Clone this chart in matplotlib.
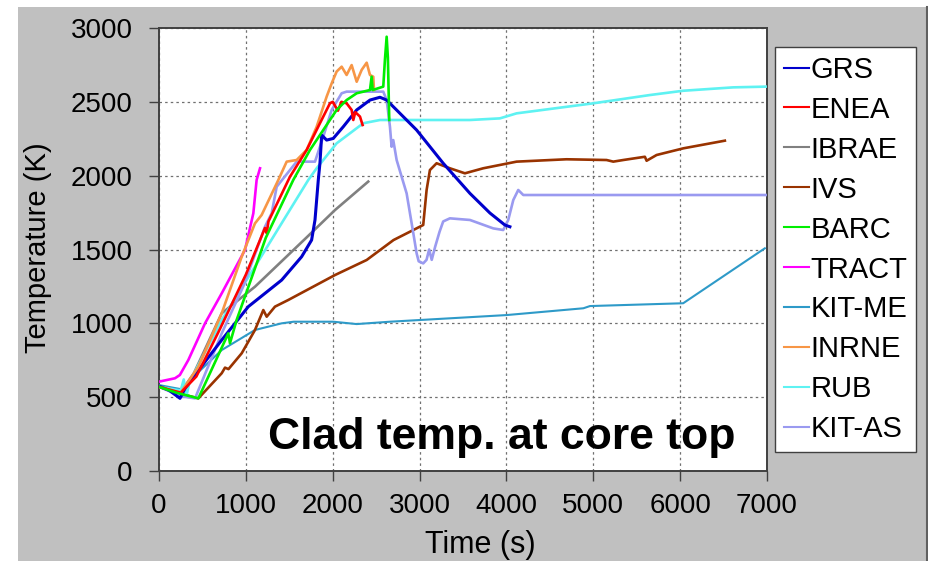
import matplotlib
matplotlib.use("Agg")
import matplotlib.pyplot as plt
from matplotlib.patches import Rectangle
from matplotlib.lines import Line2D

plt.rcParams['font.family'] = ['Liberation Sans', 'DejaVu Sans']

# ---------------- data (time s, temperature K) ----------------
series_names = ["GRS", "ENEA", "IBRAE", "IVS", "BARC", "TRACT", "KIT-ME", "INRNE", "RUB", "KIT-AS"]
series_colors = ["#0000cc", "#ff0000", "#808080", "#993300", "#00ee00", "#ff00ff",
                 "#2e9ac8", "#f79646", "#5ef2f2", "#9a9af0"]

grs_t = [0, 120, 242, 300, 530, 722, 1028, 1412, 1642, 1757, 1796, 1834, 1853, 1873, 1930, 2006,
         2121, 2276, 2429, 2544, 2621, 2966, 3272, 3580, 3810, 3982, 4040]
grs_T = [575, 545, 492, 560, 740, 887, 1113, 1293, 1451, 1564, 1700, 1971, 2085, 2275, 2241, 2252,
         2331, 2445, 2512, 2531, 2512, 2309, 2084, 1880, 1747, 1666, 1654]

enea_t = [0, 250, 430, 700, 1000, 1220, 1240, 1260, 1508, 1700, 1853, 1968, 2000, 2060, 2100, 2160,
          2218, 2237, 2260, 2314, 2344]
enea_T = [570, 530, 640, 960, 1330, 1646, 1610, 1690, 1993, 2174, 2355, 2490, 2500, 2440, 2500, 2490,
          2445, 2377, 2430, 2400, 2343]

ibrae_t = [0, 250, 400, 722, 1105, 1431, 1700, 2026, 2409]
ibrae_T = [570, 535, 660, 1068, 1248, 1431, 1582, 1767, 1960]

ivs_t = [0, 200, 453, 722, 760, 800, 952, 1105, 1201, 1240, 1335, 1488, 2026, 2391, 2700, 3042,
         3081, 3119, 3196, 3349, 3522, 3733, 4117, 4692, 5153, 5230, 5345, 5594, 5614, 5729, 6036, 6515]
ivs_T = [570, 530, 492, 662, 700, 690, 797, 955, 1090, 1045, 1113, 1158, 1327, 1429, 1564, 1666,
         1903, 2038, 2084, 2050, 2016, 2050, 2095, 2111, 2106, 2095, 2106, 2128, 2101, 2140, 2185, 2237]

barc_t = [0, 200, 453, 798, 817, 894, 1230, 1546, 1738, 1891, 2045, 2160,
          2276, 2429, 2448, 2460, 2582, 2601, 2621, 2635, 2651]
barc_T = [570, 530, 492, 932, 865, 1023, 1580, 1971, 2174, 2309, 2445, 2512,
          2558, 2580, 2670, 2580, 2603, 2783, 2941, 2800, 2377]

tract_t = [0, 184, 240, 338, 530, 722, 990, 1086, 1124, 1163]
tract_T = [605, 628, 650, 752, 1000, 1203, 1497, 1745, 1971, 2050]

kitme_t = [0, 299, 400, 722, 1105, 1412, 1550, 2006, 2276, 2659, 3349, 4002, 4886, 4962, 6035, 6975]
kitme_T = [582, 549, 640, 819, 955, 1000, 1011, 1011, 995, 1011, 1034, 1056, 1102, 1117, 1136, 1508]

inrne_t = [0, 250, 453, 722, 952, 1105, 1182, 1374, 1470, 1585, 1700, 1815, 1930, 1988, 2045, 2103,
           2160, 2218, 2276, 2333, 2391, 2429, 2467, 2475]
inrne_T = [570, 530, 706, 1068, 1451, 1677, 1734, 1971, 2095, 2106, 2174, 2331, 2535, 2625, 2705, 2738,
           2682, 2749, 2636, 2716, 2765, 2682, 2670, 2580]

rub_t = [0, 250, 285, 300, 320, 350, 722, 1105, 1431, 1719, 1815, 2045, 2352, 2544, 3580,
         3925, 4117, 5000, 5651, 6035, 6611, 6995]
rub_T = [570, 545, 620, 560, 520, 600, 1023, 1384, 1696, 1971, 2050, 2219, 2355, 2377, 2377,
         2388, 2422, 2490, 2546, 2575, 2598, 2603]

kitas_t = [0, 261, 415, 722, 970, 1220, 1297, 1355, 1585, 1796, 1891, 1988, 2103, 2160, 2582, 2621,
           2659, 2678, 2697, 2736, 2851, 2928, 2966, 2990, 3042, 3080, 3110, 3140, 3180, 3230, 3272,
           3349, 3580, 3848, 3963, 4021, 4079, 4136, 4194, 6995]
kitas_T = [570, 505, 492, 932, 1250, 1654, 1745, 1925, 2095, 2095, 2264, 2445, 2558, 2569, 2569, 2512,
           2331, 2196, 2241, 2106, 1880, 1610, 1474, 1420, 1406, 1430, 1500, 1430, 1520, 1620, 1690,
           1711, 1700, 1643, 1632, 1700, 1835, 1903, 1869, 1869]

series_t = [grs_t, enea_t, ibrae_t, ivs_t, barc_t, tract_t, kitme_t, inrne_t, rub_t, kitas_t]
series_T = [grs_T, enea_T, ibrae_T, ivs_T, barc_T, tract_T, kitme_T, inrne_T, rub_T, kitas_T]

x_ticks = [0, 1000, 2000, 3000, 4000, 5000, 6000, 7000]
y_ticks = [0, 500, 1000, 1500, 2000, 2500, 3000]

# ---------------- figure ----------------
W, H = 929, 561
fig = plt.figure(figsize=(W / 100, H / 100), dpi=100, facecolor="white")
fig.patches.append(Rectangle((18 / W, 0), 1 - 18 / W, 1 - 7 / H, transform=fig.transFigure,
                             facecolor="#c0c0c0", edgecolor="none", zorder=-10))
fig.lines.append(Line2D([927 / W, 927 / W], [0, 1 - 7 / H], transform=fig.transFigure,
                        color="#606060", lw=1.5))

ax = fig.add_axes([159 / W, (H - 471) / H, (767 - 159) / W, (471 - 28) / H])
ax.set_facecolor("white")

order = [6, 2, 3, 8, 9, 0, 5, 7, 1, 4]
for k, i in enumerate(order):
    name = series_names[i]
    lw = 1.5 if name == "KIT-ME" else (2.2 if name == "GRS" else 1.9)
    ax.plot(series_t[i], series_T[i], color=series_colors[i], lw=lw, zorder=3 + k * 0.01)

ax.set_xlim(0, 7000)
ax.set_ylim(0, 3000)
ax.set_xticks(x_ticks)
ax.set_yticks(y_ticks)
ax.grid(True, color="#707070", lw=0.9, linestyle=(0, (2, 2.5)))
ax.set_axisbelow(True)
for s in ax.spines.values():
    s.set_color("#404040")
    s.set_linewidth(1.4)
ax.tick_params(axis="both", direction="out", length=7, width=1.0, color="#404040")
ax.tick_params(axis="y", labelsize=20, pad=12)
ax.tick_params(axis="x", labelsize=20, pad=9)

fig.text(38 / W, 1 - 248 / H, "Temperature (K)", rotation=90, ha="center", va="center", fontsize=21)
fig.text(480 / W, 1 - 545 / H, "Time (s)", ha="center", va="center", fontsize=22)
fig.text(268 / W, 1 - 449 / H, "Clad temp. at core top", ha="left", va="baseline",
         fontsize=32, fontweight="bold")

handles = [Line2D([], [], color=c, lw=1.5) for c in series_colors]
leg = fig.legend(handles, series_names, loc="upper left", bbox_to_anchor=(775 / W, 1 - 47 / H),
                 bbox_transform=fig.transFigure, borderaxespad=0, fontsize=21, frameon=True,
                 fancybox=False, edgecolor="#404040", framealpha=1, handlelength=0.85,
                 handletextpad=0.08, labelspacing=0.41, borderpad=0.3)
leg.get_frame().set_linewidth(1.0)

fig.savefig("out.png", dpi=100, facecolor=fig.get_facecolor())
